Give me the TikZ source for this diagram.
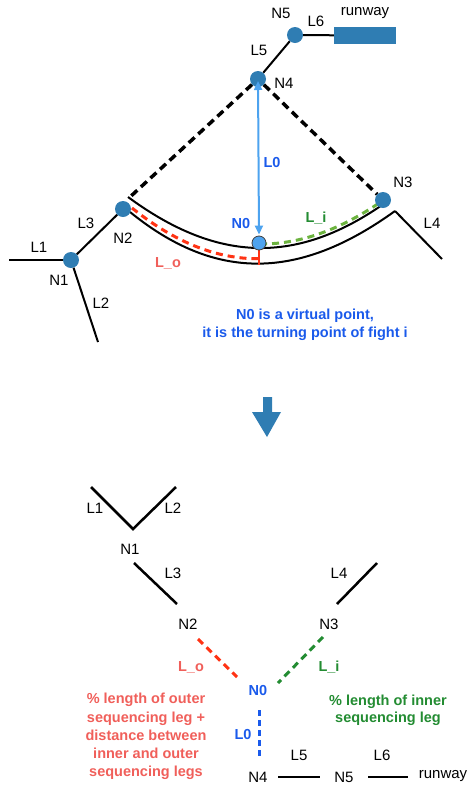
\documentclass[tikz,border=0pt]{standalone}
\usepackage{fontspec}
\setmainfont{Liberation Sans}
\usetikzlibrary{arrows.meta}
\definecolor{nodeblue}{RGB}{47,125,179}
\definecolor{arrowblue}{RGB}{77,163,239}
\definecolor{txtblue}{RGB}{26,90,235}
\definecolor{dred}{RGB}{255,51,20}
\definecolor{tred}{RGB}{240,95,90}
\definecolor{lgreen}{RGB}{108,179,63}
\definecolor{dgreen}{RGB}{35,140,50}
\tikzset{
  dotn/.style={circle, fill=nodeblue, minimum size=16pt, inner sep=0pt},
  lbl/.style={font=\fontsize{15}{17}\selectfont, inner sep=0pt},
  blbl/.style={font=\fontsize{14.5}{17}\selectfont\bfseries, inner sep=0pt, text=txtblue},
  road/.style={line width=2pt},
  road2/.style={line width=2.5pt},
  bdash/.style={line width=3.5pt, dash pattern=on 8pt off 5pt},
  cdash/.style={line width=3pt, dash pattern=on 7pt off 5pt},
}
\begin{document}
\begin{tikzpicture}[x=1pt,y=-1pt]
\useasboundingbox (0,0) rectangle (469,788);

% ---------- top part ----------
\coordinate (us) at (128,197);
\coordinate (ue) at (385,203);
\coordinate (ls) at (130,212);
\coordinate (le) at (395,211);
\coordinate (L1e) at (9,260);
\coordinate (L2e) at (98,342);
\coordinate (L4e) at (442,259);
\coordinate (dl) at (130,197);

% curves
\draw[road] (us) .. controls (219,264) and (298,264) .. (ue);
\draw[road] (ls) .. controls (215,281) and (298,281) .. (le);
\begin{scope}
  \clip (0,0) rectangle (258,400);
  \draw[dred, cdash] (132,208) .. controls (217,276) and (298,276) .. (395,206);
\end{scope}
\begin{scope}
  \clip (264,0) rectangle (380,400);
  \draw[lgreen, cdash] (128,193) .. controls (219,260) and (298,260) .. (385,199);
\end{scope}
\draw[dred, line width=1.5pt] (259,241) -- (259,265);

% nodes
\node[dotn] (N1) at (71,260) {};
\node[dotn] (N2) at (123,209) {};
\node[dotn] (N3) at (383,200) {};
\node[dotn] (N4) at (258,79) {};
\node[dotn] (N5) at (295,35) {};
\node[fill=nodeblue, minimum width=62pt, minimum height=17pt, inner sep=0pt] (rw) at (365,35.5) {};
\node[circle, fill=arrowblue, draw=black!75, line width=0.8pt, minimum size=14pt, inner sep=0pt] (N0) at (259,243) {};

% connectors
\draw[road] (L1e) -- (N1);
\draw[road] (N1) -- (L2e);
\draw[road] (N1) -- (N2);
\draw[road] (le) -- (L4e);
\draw[road] (N4) -- (N5);
\draw[road] (N5) -- (rw);
\draw[bdash] (N4) -- (dl);
\draw[bdash] (N4) -- (N3);
\draw[arrowblue, line width=2pt, {Triangle[length=9pt,width=8pt]}-{Triangle[length=9pt,width=8pt]}, shorten <=1pt, shorten >=2pt] (N0.north) -- (N4.center);

% labels
\node[lbl] (tN5) at (281,13) {N5};
\node[lbl] (tL6) at (316,21) {L6};
\node[lbl] (trw) at (365,13) {runway};
\node[lbl] (tL5) at (259,50) {L5};
\node[lbl] (tN4) at (284,83) {N4};
\node[blbl] (tL0) at (272,163) {L0};
\node[lbl] (tN3) at (403,182) {N3};
\node[lbl] (tL4) at (432,223) {L4};
\node[blbl] (tN0) at (241,224) {N0};
\node[blbl, text=dgreen] (tLi) at (316,218) {L\_i};
\node[blbl, text=tred] (tLo) at (168,263) {L\_o};
\node[lbl] (tL3) at (86,223) {L3};
\node[lbl] (tN2) at (123,238) {N2};
\node[lbl] (tL1) at (39,247) {L1};
\node[lbl] (tN1) at (59,280) {N1};
\node[lbl] (tL2) at (101,303) {L2};
\node[blbl, align=center, font=\fontsize{14.5}{18}\selectfont\bfseries] (note) at (305,325) {N0 is a virtual point,\\it is the turning point of fight i};

% big down arrow
\fill[nodeblue] (263,397) -- (272,397) -- (272,412) -- (281,412) -- (267,437) -- (252,412) -- (263,412) -- cycle;

% ---------- bottom part ----------
\coordinate (v1) at (91,487);
\coordinate (vb) at (133,529);
\coordinate (v2) at (176,487);
\draw[road2] (v1) -- (vb) -- (v2);
\node[lbl] (bL1) at (95,508) {L1};
\node[lbl] (bL2) at (173,508) {L2};
\node[lbl] (bN1) at (130,549) {N1};

\coordinate (l3a) at (134,563);
\coordinate (l3b) at (177,604);
\draw[road2] (l3a) -- (l3b);
\node[lbl] (bL3) at (173,573) {L3};
\coordinate (l4a) at (377,563);
\coordinate (l4b) at (337,604);
\draw[road2] (l4a) -- (l4b);
\node[lbl] (bL4) at (339,573) {L4};

\node[lbl] (bN2) at (188,624) {N2};
\node[lbl] (bN3) at (329,624) {N3};
\coordinate (ra) at (198,639);
\coordinate (rb) at (237,677);
\draw[dred, cdash] (ra) -- (rb);
\coordinate (ga) at (323,637);
\coordinate (gb) at (278,683);
\draw[dgreen, cdash] (ga) -- (gb);
\node[blbl, text=tred] (bLo) at (191,667) {L\_o};
\node[blbl, text=dgreen] (bLi) at (329,667) {L\_i};
\node[blbl] (bN0) at (258,690) {N0};
\coordinate (ba) at (259,710);
\coordinate (bb) at (259,758);
\draw[txtblue, line width=3pt, dash pattern=on 6pt off 4pt] (ba) -- (bb);
\node[blbl] (bL0) at (243,734) {L0};

\node[lbl] (bN4) at (258,777) {N4};
\node[lbl] (bN5) at (344,777) {N5};
\node[lbl] (brw) at (443,776) {runway};
\coordinate (n45a) at (278,777);
\coordinate (n45b) at (320,777);
\draw[road] (n45a) -- (n45b);
\coordinate (n56a) at (368,777);
\coordinate (n56b) at (408,777);
\draw[road] (n56a) -- (n56b);
\node[lbl] (bL5) at (299,755) {L5};
\node[lbl] (bL6) at (382,755) {L6};

\node[blbl, text=tred, align=center, font=\fontsize{14.5}{18.2}\selectfont\bfseries] (rtext) at (146,736.5) {\% length of outer\\sequencing leg +\\distance between\\inner and outer\\sequencing legs};
\node[blbl, text=dgreen, align=center, font=\fontsize{14.5}{17.5}\selectfont\bfseries] (gtext) at (388,710.5) {\% length of inner\\sequencing leg};
\end{tikzpicture}
\end{document}
